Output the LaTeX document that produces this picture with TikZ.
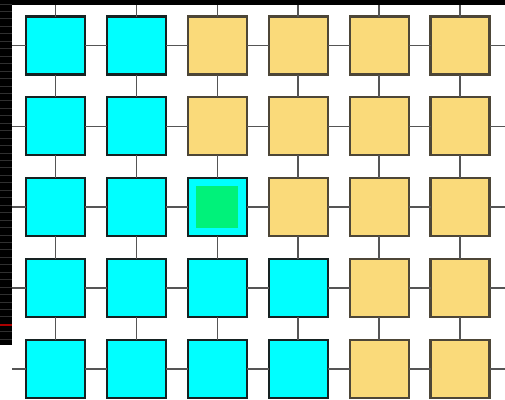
\documentclass[tikz,border=0pt]{standalone}
\definecolor{cyanfill}{RGB}{0,255,255}
\definecolor{yelfill}{RGB}{250,218,122}
\definecolor{greenfill}{RGB}{0,242,122}
\definecolor{cyanedge}{RGB}{22,34,34}
\definecolor{yeledge}{RGB}{77,70,55}
\definecolor{wire}{RGB}{85,85,85}
\definecolor{stripeline}{RGB}{48,48,48}
\definecolor{redline}{RGB}{170,0,0}
\tikzset{
  cell/.style={draw, line width=2.2pt, minimum width=59pt, minimum height=58pt, inner sep=0pt, outer sep=0pt},
  cyancell/.style={cell, fill=cyanfill, draw=cyanedge},
  yelcell/.style={cell, fill=yelfill, draw=yeledge},
  core/.style={fill=greenfill, minimum size=42pt, inner sep=0pt, outer sep=0pt},
  wireline/.style={draw=wire, line width=1.6pt}
}
\begin{document}
\begin{tikzpicture}[x=1pt,y=-1pt]
\useasboundingbox (0,0) rectangle (505,399);
\fill[white] (0,0) rectangle (505,399);
% top bar
\fill[black] (0,0) rectangle (505,5);
% left stripe
\fill[black] (0,0) rectangle (12,345);
\foreach \k in {0,...,45}{
  \draw[stripeline, line width=0.9pt] (0,{4+7.45*\k}) -- (12,{4+7.45*\k});
}
\draw[redline, line width=1.2pt] (0,325) -- (12,325);
% cells
\foreach \i in {1,...,6}{
  \foreach \j in {1,...,5}{
    \pgfmathsetmacro{\cx}{55.5+80.9*(\i-1)}
    \pgfmathsetmacro{\cy}{45.5+80.8*(\j-1)}
    \pgfmathtruncatemacro{\iscyan}{(\i<=2) || (\j>=4 && \i<=4) || (\i==3 && \j==3)}
    \ifnum\iscyan=1
      \node[cyancell] (s-\i-\j) at (\cx,\cy) {};
    \else
      \node[yelcell] (s-\i-\j) at (\cx,\cy) {};
    \fi
  }
}
\node[core] (core) at (s-3-3.center) {};
% horizontal wires
\foreach \j in {1,...,5}{
  \foreach \i [evaluate=\i as \n using int(\i+1)] in {1,...,5}{
    \draw[wireline] (s-\i-\j.east) -- (s-\n-\j.west);
  }
  \coordinate (l-\j) at (12,0 |- s-1-\j.center);
  \coordinate (r-\j) at (505,0 |- s-6-\j.center);
  \draw[wireline] (l-\j) -- (s-1-\j.west);
  \draw[wireline] (s-6-\j.east) -- (r-\j);
}
% vertical wires
\foreach \i in {1,...,6}{
  \foreach \j [evaluate=\j as \n using int(\j+1)] in {1,...,4}{
    \draw[wireline] (s-\i-\j.south) -- (s-\i-\n.north);
  }
  \coordinate (t-\i) at (s-\i-1.center |- 0,5);
  \draw[wireline] (t-\i) -- (s-\i-1.north);
}
\end{tikzpicture}
\end{document}
